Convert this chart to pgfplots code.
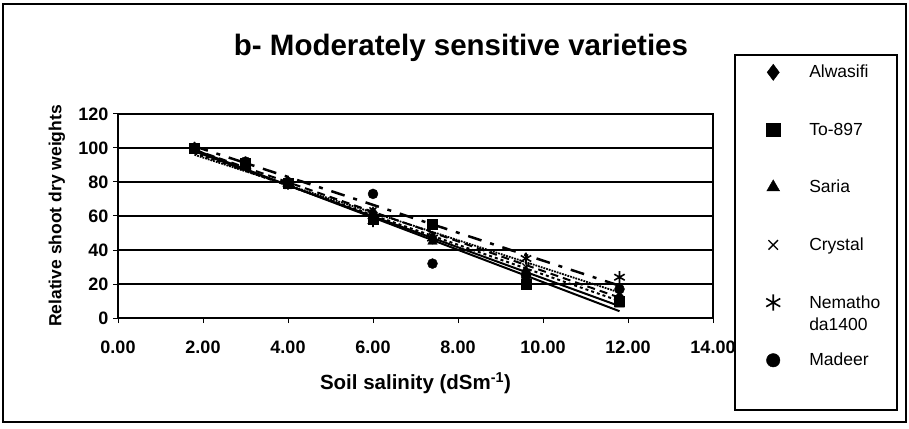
\documentclass[border=0pt]{standalone}
\usepackage{fontspec}
\setmainfont{Liberation Sans}
\usepackage{pgfplots}
\pgfplotsset{compat=1.18}
\newcommand\lf{\fontsize{17.5}{22}\selectfont}
\begin{document}
\begin{tikzpicture}[x=1pt,y=1pt]
\path[use as bounding box] (-118,-110) rectangle (791,318);
\draw[line width=1.5pt] (-115,314) rectangle (788,-104);
\draw[line width=1.3pt] (617,263) rectangle (779,-92);
\node[font=\fontsize{29.5}{32}\selectfont\bfseries] at (343,270) {b- Moderately sensitive varieties};
\begin{axis}[
  at={(0pt,0pt)}, anchor=south west,
  scale only axis, width=595pt, height=204pt,
  xmin=0, xmax=14, ymin=0, ymax=120,
  xtick={0,2,...,14}, ytick={0,20,...,120},
  xtick pos=bottom, ytick pos=left,
  ymajorgrids, grid style={black,line width=1.3pt},
  axis line style={line width=1.3pt},
  tick style={black,line width=1pt}, tick align=outside, major tick length=5pt,
  /pgf/number format/assume math mode=true,
  xticklabel style={/pgf/number format/.cd,fixed,fixed zerofill,precision=2,/tikz/.cd,yshift=-14pt},
  yticklabel style={/pgf/number format/.cd,fixed,precision=0,/tikz/.cd,xshift=-1pt},
  ticklabel style={font=\fontsize{18}{20}\selectfont\bfseries},
  every axis x label/.style={at={(axis description cs:0.5,0)},yshift=-65pt,anchor=center,font=\fontsize{20.5}{22}\selectfont\bfseries},
  every axis y label/.style={at={(axis description cs:0,0.5)},xshift=-61pt,rotate=90,anchor=center,font=\fontsize{17.5}{20}\selectfont\bfseries},
  xlabel={Soil salinity (dSm\textsuperscript{-1})},
  ylabel={Relative shoot dry weights},
  legend style={at={(axis description cs:1.037,1.289)}, anchor=north west, draw=none, fill=none,
    font=\lf, row sep=39.5pt, inner xsep=31pt, inner ysep=8pt,
    /tikz/every odd column/.append style={column sep=27pt}},
  legend cell align=left,
  legend image code/.code={\draw[#1] plot coordinates {(0.3cm,0cm)};},
  legend image post style={every mark/.append style={scale=1.35}},
  mark options={solid,fill=black,draw=black},
]
% trend lines
\addplot[forget plot, black, line width=2pt] coordinates {(1.8,98) (11.8,7)};
\addplot[forget plot, black, line width=2pt] coordinates {(1.8,99) (11.8,4)};
\addplot[forget plot, black, line width=2pt, dashed] coordinates {(1.8,97) (11.8,10)};
\addplot[forget plot, black, line width=1.8pt, densely dotted] coordinates {(1.8,96) (11.8,15)};
\addplot[forget plot, black, line width=2.5pt, dash pattern=on 14pt off 9pt on 4pt off 9pt] coordinates {(1.8,101) (11.8,19)};
\addplot[forget plot, black, line width=2pt, dash pattern=on 8pt off 5pt] coordinates {(1.8,99) (11.8,12)};
% data
\addplot[only marks, mark=diamond*, mark size=6pt] coordinates {(1.8,100) (3.0,90) (4.0,80) (6.0,62) (7.4,47) (9.6,27) (11.8,12)};
\addlegendentry{\lf Alwasifi}
\addplot[only marks, mark=square*, mark size=5pt] coordinates {(1.8,100) (3.0,91) (4.0,79) (6.0,58) (7.4,55) (9.6,20) (11.8,10)};
\addlegendentry{\lf To-897}
\addplot[only marks, mark=triangle*, mark size=5.5pt] coordinates {(1.8,100) (3.0,89) (4.0,80) (6.0,60) (7.4,45) (9.6,25) (11.8,8)};
\addlegendentry{\lf Saria}
\addplot[only marks, mark=x, mark size=5pt, line width=1.3pt] coordinates {(1.8,100) (3.0,92) (4.0,78) (6.0,63) (7.4,48) (9.6,30) (11.8,15)};
\addlegendentry{\lf Crystal}
\addplot[only marks, mark=asterisk, mark size=6pt, line width=1.6pt] coordinates {(1.8,100) (3.0,90) (4.0,79) (6.0,57) (7.4,47) (9.6,35) (11.8,24)};
\addlegendentry{\raisebox{0pt}[\height][\dimexpr\depth+29pt]{\parbox[t]{70pt}{\lf Nematho\\da1400}}}
\addplot[only marks, mark=*, mark size=5pt] coordinates {(1.8,100) (3.0,92) (4.0,80) (6.0,73) (7.4,32) (9.6,25) (11.8,17)};
\addlegendentry{\lf Madeer}
\end{axis}
\end{tikzpicture}
\end{document}
